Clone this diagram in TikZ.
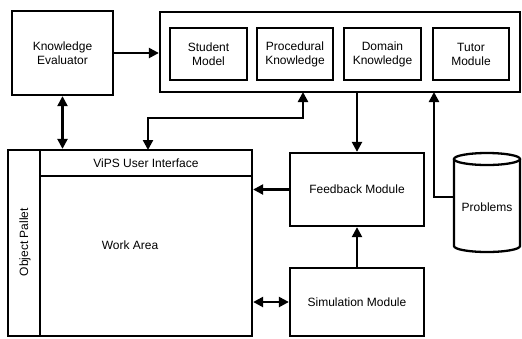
\documentclass[tikz,border=0pt]{standalone}
\usepackage{fontspec}
\setmainfont{Liberation Sans}
\usetikzlibrary{arrows.meta}
\begin{document}
\begin{tikzpicture}[x=1pt,y=-1pt,
 txt/.style={inner sep=0pt, align=center, font=\fontsize{12}{14}\selectfont},
 box/.style={txt, draw, line width=2.3pt},
 lnk/.style={line width=2.3pt, -{Triangle[length=10pt,width=10pt]}},
 dlnk/.style={line width=2.3pt, {Triangle[length=10pt,width=10pt]}-{Triangle[length=10pt,width=10pt]}}]
\useasboundingbox (0,0) rectangle (522,338);
% top
\node[box, minimum width=101, minimum height=84] (ke) at (62.5,53) {Knowledge\\Evaluator};
\node[box, minimum width=360, minimum height=80] (cont) at (340,52) {};
\node[box, minimum width=77, minimum height=52] (sm) at (208.5,54) {Student\\Model};
\node[box, minimum width=76, minimum height=52] (pk) at (295,54) {Procedural\\Knowledge};
\node[box, minimum width=77, minimum height=52] (dk) at (382.5,54) {Domain\\Knowledge};
\node[box, minimum width=76, minimum height=52] (tm) at (471,54) {Tutor\\Module};
% UI
\node[box, minimum width=244, minimum height=186] (ui) at (130,243) {};
\node[box, minimum width=32, minimum height=186] (pal) at (24,243) {};
\node[txt, rotate=90] (paltxt) at (25,242) {Object Pallet};
\node[box, minimum width=212, minimum height=26] (hdr) at (146,163) {ViPS User Interface};
\node[txt] (wa) at (130,245) {Work Area};
% right modules
\node[box, minimum width=134, minimum height=73] (fb) at (357,189.5) {Feedback Module};
\node[box, minimum width=134, minimum height=68] (sim) at (357,302) {Simulation Module};
% cylinder
\draw[line width=2.3pt, fill=white] (454,159) -- (454,246) arc[start angle=180, end angle=0, x radius=33, y radius=6] -- (520,159);
\draw[line width=2.3pt] (487,159) ellipse [x radius=33, y radius=6];
\node[txt] (prob) at (487,207) {Problems};
% connectors
\draw[lnk] (ke.east) -- (ke.east -| cont.west);
\draw[dlnk] (ke.south) -- (ke.south |- hdr.north);
\coordinate (pa) at (148,150);
\coordinate (pb) at (303,92);
\draw[dlnk] (pa) -- ++(0,-32) -| (pb);
\draw[lnk] (fb.north |- cont.south) -- (fb.north);
\coordinate (pl) at (454,197);
\coordinate (tb) at (434,92);
\draw[lnk] (pl) -| (tb);
\draw[lnk] (fb.west) -- (fb.west -| ui.east);
\draw[lnk] (sim.north) -- (fb.south);
\draw[dlnk] (sim.west) -- (sim.west -| ui.east);
\end{tikzpicture}
\end{document}
